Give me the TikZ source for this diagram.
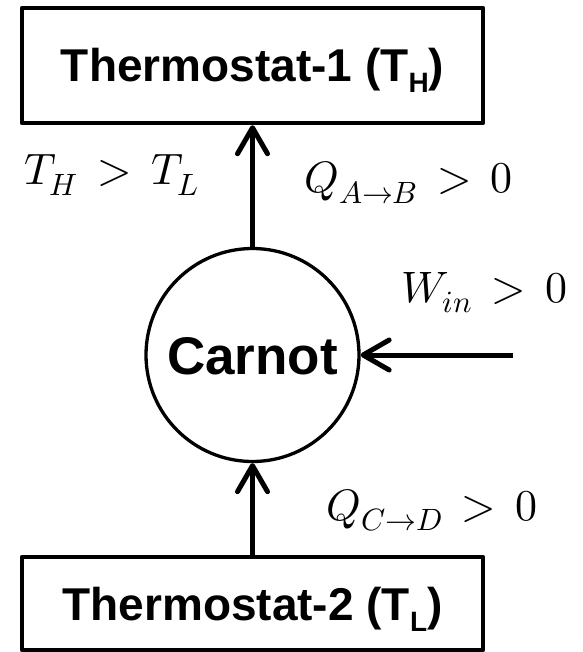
\documentclass[tikz,border=0pt]{standalone}
\usepackage{unicode-math}
\newfontfamily\sansbold{Liberation Sans Bold}
\usetikzlibrary{arrows.meta}
\newcommand\tsubsc[1]{\smash{\raisebox{-11pt}{\fontsize{28}{28}\selectfont #1}}}
\newcommand\mygt{\mathrel{\,>\,}}
\begin{document}
\begin{tikzpicture}[x=1pt,y=-1pt,
  box/.style={draw, line width=4.5pt, line join=round, minimum width=461pt, inner sep=0pt,
    font=\sansbold\fontsize{46}{46}\selectfont, text height=33pt, text depth=0pt},
  engine/.style={draw, circle, line width=3.3pt, minimum size=213pt, inner sep=0pt,
    font=\sansbold\fontsize{53}{53}\selectfont, text height=38pt, text depth=0pt},
  flow/.style={line width=5pt, -{Straight Barb[round, length=26pt, width=30pt]}},
  lbl/.style={anchor=base west, inner sep=0pt, font=\fontsize{44}{44}\selectfont}
]
\useasboundingbox (0,0) rectangle (582,652);
\node[box, minimum height=115pt] (hot) at (252.5,65.5) {Thermostat-1 (T\tsubsc{H})};
\node[box, minimum height=93pt] (cold) at (252.5,603.5) {Thermostat-2 (T\tsubsc{L})};
\node[engine] (carnot) at (252.5,355) {Carnot};
\coordinate (work) at (513,355);
\draw[flow] (carnot.north) -- (hot.south);
\draw[flow] (cold.north) -- (carnot.south);
\draw[flow] (work) -- (carnot.east);
\node[lbl] (tcmp) at (24,185) {$T_H \mygt T_L$};
\node[lbl] (qab) at (304,193) {$Q_{A\rightarrow B} \mygt 0$};
\node[lbl] (win) at (401,302) {$W_{in} \mygt 0$};
\node[lbl] (qcd) at (326,520) {$Q_{C\rightarrow D} \mygt 0$};
\end{tikzpicture}
\end{document}
